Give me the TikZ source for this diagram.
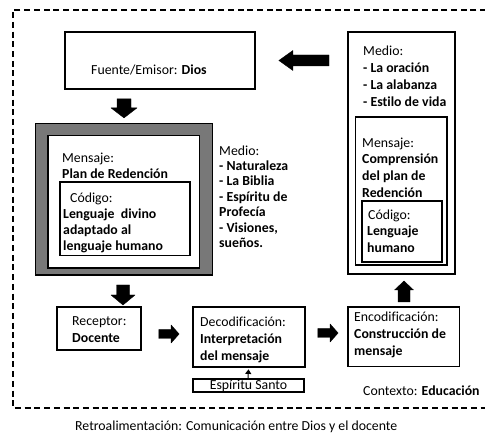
\documentclass[tikz,border=0pt]{standalone}
\usepackage{fontspec}
\setmainfont{Carlito}[Ligatures=NoCommon]
\usetikzlibrary{arrows.meta,calc,fit}
\definecolor{frameg}{RGB}{120,120,120}
\begin{document}
\begin{tikzpicture}[x=1pt,y=-1pt,
  box/.style={draw, line width=1.8pt, inner sep=0},
  thinbox/.style={draw, line width=1.4pt, inner sep=0},
  lbl/.style={inner sep=0, anchor=north west, align=left, font=\fontsize{13.8}{#1}\selectfont},
  one/.style={inner sep=0, font=\fontsize{13.8}{16}\selectfont},
  blk/.style={fill=black, draw=black, line width=0.4pt, line join=round},
  outer/.style={line width=1.3pt, dash pattern=on 6pt off 3.7pt}]
\useasboundingbox (0,0) rectangle (485,435);
% outer dashed context frame
\coordinate (ctxTR) at (486,10);
\coordinate (ctxTL) at (13,10);
\coordinate (ctxBL) at (13,408);
\coordinate (ctxBR) at (486,408);
\draw[outer] (ctxTR) -- (ctxTL) -- (ctxBL) -- (ctxBR);

% boxes
\node[box, fit={(65,32) (255,89)}] (fuente) {};
\node[draw, line width=1.2pt, fill=frameg, inner sep=0, fit={(35.5,123.5) (212.5,275)}] (frame) {};
\node[draw, line width=1.5pt, fill=white, inner sep=0, fit={(48,135.5) (199.5,268)}] (inner) {};
\node[thinbox, fit={(60,182) (190,255.5)}] (codL) {};
\node[box, line width=2pt, fit={(348,32) (455,274)}] (medR) {};
\node[thinbox, fit={(355.5,117) (447,265)}] (menR) {};
\node[thinbox, fit={(362,201) (442,262)}] (codR) {};
\node[box, fit={(57,307) (141,350)}] (recep) {};
\node[box, fit={(193,307) (305,367)}] (decod) {};
\node[thinbox, fit={(193,379) (304,392)}] (espiritu) {};
\node[box, fit={(348,307) (459.5,366.5)}] (encod) {};

% texts
\node[one, anchor=base west] (tFuente) at (91,75) {Fuente/Emisor: \textbf{Dios}};
\node[lbl=15.5] (tMenL) at (62,151.65) {\strut Mensaje:\\\strut\textbf{Plan de Redención}};
\node[lbl=16] (tCodL) at (63,190.8) {\strut\hspace*{7pt}Código:\\\strut\textbf{Lenguaje\ \ divino}\\\strut\textbf{adaptado al}\\\strut\textbf{lenguaje humano}};
\node[lbl=15.4] (tMedL) at (219,144.2) {\strut Medio:\\\strut\textbf{- Naturaleza}\\\strut\textbf{- La Biblia}\\\strut\textbf{- Espíritu de}\\\strut\textbf{Profecía}\\\strut\textbf{- Visiones,}\\\strut\textbf{sueños.}};
\node[lbl=17] (tMedR) at (363,43.1) {\strut Medio:\\\strut\textbf{- La oración}\\\strut\textbf{- La alabanza}\\\strut\textbf{- Estilo de vida}};
\node[lbl=16.7] (tMenR) at (362,135.3) {\strut Mensaje:\\\strut\textbf{Comprensión}\\\strut\textbf{del plan de}\\\strut\textbf{Redención}};
\node[lbl=16.5] (tCodR) at (367,207.45) {\strut\hspace*{1pt}Código:\\\strut\textbf{Lenguaje}\\\strut\textbf{humano}};
\node[lbl=17] (tRecep) at (72,313.1) {\strut Receptor:\\\strut\textbf{Docente}};
\node[lbl=17] (tDecod) at (200,314.1) {\strut Decodificación:\\\strut\textbf{Interpretación}\\\strut\textbf{del mensaje}};
\node[lbl=17] (tEncod) at (354,309.1) {\strut Encodificación:\\\strut\textbf{Construcción de}\\\strut\textbf{mensaje}};
\node[one, anchor=base] (tEsp) at (248.5,390) {Espíritu Santo};
\node[one, anchor=base west] (tCtx) at (363,396) {Contexto: \textbf{Educación}};
\node[one, anchor=base west] (tRetro) at (75,431) {Retroalimentación: Comunicación entre Dios y el docente};

% block arrows (tail -> tip)
% Fuente -> Mensaje frame (down)
\coordinate (a1) at ($(frame.north |- fuente.south)+(0,9)$);
\coordinate (a2) at ($(frame.north)+(0,-5)$);
\fill[blk] ($(a1)+(-7,0)$) -- ($(a1)+(7,0)$) -- ($(a2)+(7,-10)$) -- ($(a2)+(13,-10)$) -- (a2) -- ($(a2)+(-13,-10)$) -- ($(a2)+(-7,-10)$) -- cycle;
% frame -> Receptor (down)
\coordinate (b1) at (123,285);
\coordinate (b2) at (123,305);
\fill[blk] ($(b1)+(-6.5,0)$) -- ($(b1)+(6.5,0)$) -- ($(b2)+(6.5,-10)$) -- ($(b2)+(12,-10)$) -- (b2) -- ($(b2)+(-12,-10)$) -- ($(b2)+(-6.5,-10)$) -- cycle;
% Medio (right) -> Fuente (left)
\coordinate (c1) at ($(medR.west |- fuente.center)+(-18,0)$);
\coordinate (c2) at ($(fuente.east)+(23,0)$);
\fill[blk] ($(c1)+(0,-5.5)$) -- ($(c1)+(0,5.5)$) -- ($(c2)+(14,5.5)$) -- ($(c2)+(14,10)$) -- (c2) -- ($(c2)+(14,-10)$) -- ($(c2)+(14,-5.5)$) -- cycle;
% Encodificacion -> Medio (up)
\coordinate (d1) at (404,302);
\coordinate (d2) at (404,281);
\fill[blk] ($(d1)+(-6,0)$) -- ($(d1)+(6,0)$) -- ($(d2)+(6,9)$) -- ($(d2)+(9.5,9)$) -- (d2) -- ($(d2)+(-9.5,9)$) -- ($(d2)+(-6,9)$) -- cycle;
% Receptor -> Decodificacion (right)
\coordinate (e1) at ($(recep.east)+(17,5.5)$);
\coordinate (e2) at ($(decod.west |- e1)+(-13,0)$);
\fill[blk] ($(e1)+(0,-4.5)$) -- ($(e1)+(0,4.5)$) -- ($(e2)+(-8,4.5)$) -- ($(e2)+(-8,9)$) -- (e2) -- ($(e2)+(-8,-9)$) -- ($(e2)+(-8,-4.5)$) -- cycle;
% Decodificacion -> Encodificacion (right)
\coordinate (f1) at ($(decod.east)+(12,-4)$);
\coordinate (f2) at ($(encod.west |- f1)+(-9,0)$);
\fill[blk] ($(f1)+(0,-4.5)$) -- ($(f1)+(0,4.5)$) -- ($(f2)+(-8,4.5)$) -- ($(f2)+(-8,9)$) -- (f2) -- ($(f2)+(-8,-9)$) -- ($(f2)+(-8,-4.5)$) -- cycle;
% Espiritu Santo -> Decodificacion
\draw[line width=1pt, -{Triangle[width=6pt,length=4.5pt]}] ($(espiritu.north)+(-0.5,0)$) -- ($(decod.south)+(-0.5,1.5)$);
\end{tikzpicture}
\end{document}
